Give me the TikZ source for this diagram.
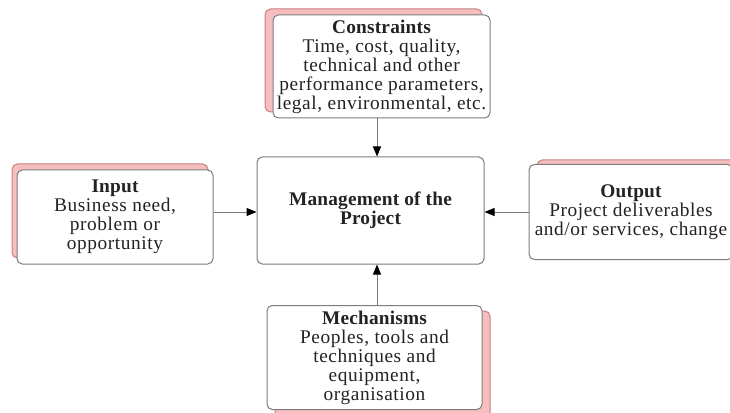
\documentclass[tikz,border=0pt]{standalone}
\usepackage{fontspec}
\setmainfont{Liberation Serif}[LetterSpace=3]
\newfontfamily\headfont{Liberation Serif}[LetterSpace=1]
\usetikzlibrary{arrows.meta}

\tikzset{every picture/.style={line width=0.75pt}}
\tikzset{
  blk/.style={draw={rgb, 255:red, 125; green, 125; blue, 125 }, fill=white, rounded corners=4pt,
    inner sep=0pt, align=center, text={rgb, 255:red, 35; green, 35; blue, 35 },
    font=\fontsize{14.5}{14.25}\selectfont},
  shd/.style={draw={rgb, 255:red, 200; green, 130; blue, 130 }, fill={rgb, 255:red, 246; green, 190; blue, 190 },
    rounded corners=4pt},
  flow/.style={draw={rgb, 255:red, 120; green, 120; blue, 120 },
    -{Triangle[length=7.5pt,width=6pt,color=black]}},
}
\newcommand{\hd}[1]{{\headfont\bfseries #1}}

\begin{document}
\begin{tikzpicture}[x=0.75pt,y=0.75pt,yscale=-1,xscale=1]
\useasboundingbox (0,0) rectangle (730,413);

%Shape: Shadows
\draw [shd] (265,9) rectangle (482,112);
\draw [shd] (12,164) rectangle (208,258);
\draw [shd] (537,160) rectangle (745,255);
\draw [shd] (275,311) rectangle (490,420);

% Boxes
\node [blk, minimum width=162.75pt, minimum height=77.25pt] (cons) at (381.5,66.5)
  {\hd{Constraints}\\Time, cost, quality,\\technical and other\\performance parameters,\\legal, environmental, etc.};
\node [blk, minimum width=147pt, minimum height=70.5pt] (inp) at (115,217)
  {\hd{Input}\\Business need,\\problem or\\opportunity};
\node [blk, minimum width=153pt, minimum height=71.25pt] (outp) at (631,212)
  {\hd{Output}\\Project deliverables\\and/or services, change};
\node [blk, minimum width=170.25pt, minimum height=80.25pt] (mgmt) at (370.5,210.5)
  {\hd{Management of the}\\\hd{Project}};
\node [blk, minimum width=161.25pt, minimum height=78pt] (mech) at (374.5,357.5)
  {\hd{Mechanisms}\\Peoples, tools and\\techniques and\\equipment,\\organisation};

% Connectors
\coordinate (ax) at (377,0);
\coordinate (ay) at (0,212);
\draw [flow] (cons.south -| ax) -- (mgmt.north -| ax);
\draw [flow] (mech.north -| ax) -- (mgmt.south -| ax);
\draw [flow] (inp.east |- ay) -- (mgmt.west |- ay);
\draw [flow] (outp.west |- ay) -- (mgmt.east |- ay);

\end{tikzpicture}
\end{document}
